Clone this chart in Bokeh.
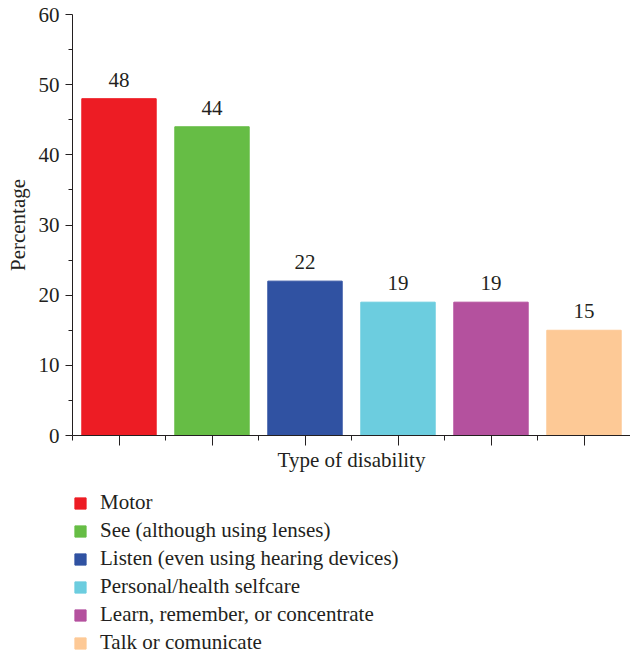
from bokeh.plotting import figure
from bokeh.layouts import column
from bokeh.models import (Range1d, FixedTicker, Legend, LegendItem, ColumnDataSource, LabelSet)
from bokeh.embed import file_html
from bokeh.resources import INLINE

categories = ["Motor", "See (although using lenses)", "Listen (even using hearing devices)",
              "Personal/health selfcare", "Learn, remember, or concentrate", "Talk or comunicate"]
values = [48, 44, 22, 19, 19, 15]
colors = ["#ED1C24", "#66BD45", "#3052A2", "#6CCDDF", "#B4519E", "#FDC996"]
y_ticks = [0, 10, 20, 30, 40, 50, 60]

FONT = "Liberation Serif"
FS = "21px"
TXT = "#231f20"

n = len(categories)
slot = [i + 0.5 for i in range(n)]  # category slot centres
src = ColumnDataSource(dict(x=slot, cat=categories, val=values, color=colors,
                            lab=[str(v) for v in values]))

p = figure(x_range=Range1d(0, n), y_range=Range1d(0, 60),
           frame_width=558, frame_height=421,
           min_border_left=72, min_border_right=0, min_border_top=14, min_border_bottom=50,
           output_backend="svg", toolbar_location=None)

r = p.vbar(x="x", top="val", width=0.8, color="color", source=src)

labels = LabelSet(x="x", y="val", text="lab", source=src, y_offset=12,
                  text_align="center", text_baseline="alphabetic",
                  text_font=FONT, text_font_size=FS, text_color=TXT)
p.add_layout(labels)

# y axis
ya = p.yaxis[0]
ya.ticker = FixedTicker(ticks=y_ticks, minor_ticks=[v + 5 for v in y_ticks[:-1]])
ya.axis_label = "Percentage"
ya.axis_label_text_font = FONT
ya.axis_label_text_font_style = "normal"
ya.axis_label_text_font_size = FS
ya.axis_label_text_color = TXT
ya.axis_label_standoff = 6
ya.major_label_text_font = FONT
ya.major_label_text_font_size = FS
ya.major_label_text_color = TXT
ya.major_label_standoff = 6
ya.major_tick_out = 7
ya.major_tick_in = 0
ya.minor_tick_out = 4
ya.minor_tick_in = 0
ya.axis_line_color = TXT
ya.major_tick_line_color = TXT
ya.minor_tick_line_color = TXT

# x axis: long ticks at bar centres, short ticks at slot edges, no tick labels
xa = p.xaxis[0]
xa.ticker = FixedTicker(ticks=slot, minor_ticks=list(range(n + 1)))
xa.major_label_overrides = {s: "" for s in slot}
xa.major_label_standoff = 0
xa.major_tick_out = 10
xa.major_tick_in = 0
xa.minor_tick_out = 5
xa.minor_tick_in = 0
xa.axis_line_color = TXT
xa.major_tick_line_color = TXT
xa.minor_tick_line_color = TXT
xa.axis_label = "Type of disability"
xa.axis_label_text_font = FONT
xa.axis_label_text_font_style = "normal"
xa.axis_label_text_font_size = FS
xa.axis_label_text_color = TXT
xa.axis_label_standoff = 2

p.grid.grid_line_color = None
p.outline_line_color = None

# legend panel underneath the chart (its bars lie far outside its visible ranges)
p2 = figure(x_range=Range1d(1000, 1000 + n), y_range=Range1d(1000, 1001),
            frame_width=558, frame_height=173,
            min_border_left=72, min_border_right=0, min_border_top=0, min_border_bottom=0,
            x_axis_location=None, y_axis_location=None,
            output_backend="svg", toolbar_location=None)
p2.grid.grid_line_color = None
p2.outline_line_color = None
r2 = p2.vbar(x="x", top="val", width=0.8, color="color", source=src)

legend = Legend(items=[LegendItem(label=c, renderers=[r2], index=i) for i, c in enumerate(categories)],
                location=(1, 3), orientation="vertical",
                glyph_width=14, glyph_height=14, label_standoff=13, spacing=3, label_height=22,
                padding=0, margin=0, border_line_color=None, background_fill_alpha=0,
                label_text_font=FONT, label_text_font_size=FS, label_text_color=TXT)
p2.add_layout(legend)

layout = column(p, p2, spacing=0)
open("out.html", "w").write(file_html(layout, INLINE))
